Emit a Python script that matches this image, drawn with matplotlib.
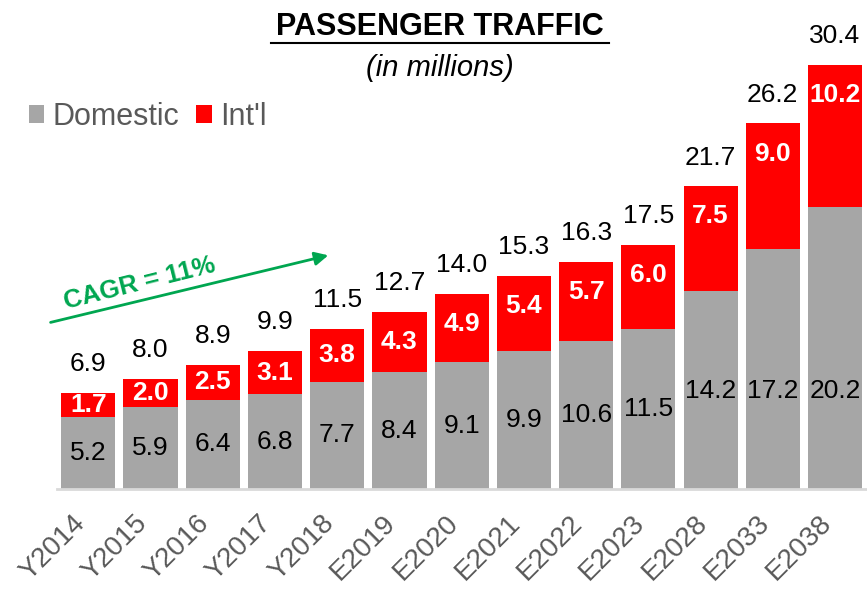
import matplotlib
matplotlib.use("Agg")
import matplotlib.pyplot as plt
import matplotlib.transforms as mtransforms
import numpy as np

years = ["Y2014", "Y2015", "Y2016", "Y2017", "Y2018", "E2019", "E2020",
         "E2021", "E2022", "E2023", "E2028", "E2033", "E2038"]
domestic = [5.2, 5.9, 6.4, 6.8, 7.7, 8.4, 9.1, 9.9, 10.6, 11.5, 14.2, 17.2, 20.2]
intl = [1.7, 2.0, 2.5, 3.1, 3.8, 4.3, 4.9, 5.4, 5.7, 6.0, 7.5, 9.0, 10.2]
totals = [6.9, 8.0, 8.9, 9.9, 11.5, 12.7, 14.0, 15.3, 16.3, 17.5, 21.7, 26.2, 30.4]

GREY = "#a6a6a6"
RED = "#ff0000"
GREEN = "#00a650"

plt.rcParams['font.family'] = ['Liberation Sans', 'DejaVu Sans']

fig = plt.figure(figsize=(8.67, 5.9), dpi=100)
ax = fig.add_axes([0.066, 0.171, 0.933, 0.829])

x = np.arange(len(years))
dom_arr = np.array(domestic)
int_arr = np.array(intl)
ax.bar(x, dom_arr, width=0.87, color=GREY, label="Domestic")
ax.bar(x, int_arr, width=0.87, bottom=dom_arr, color=RED, label="Int'l")

ax.set_xlim(-0.5, 12.5)
ax.set_ylim(0, 35.05)

# labels
for i in range(len(years)):
    ax.text(x[i], min(domestic[i] / 2, 7.0), f"{domestic[i]:.1f}",
            ha="center", va="center", fontsize=19, color="black")
    top = domestic[i] + intl[i]
    ax.text(x[i], top - min(intl[i] / 2, 2.15), f"{intl[i]:.1f}",
            ha="center", va="center", fontsize=19, color="white", fontweight="bold")
    ax.annotate(f"{totals[i]:.1f}", (x[i], top), xytext=(0, 12),
                textcoords="offset points", ha="center", va="bottom",
                fontsize=19, color="black")

for s in ["top", "right", "left"]:
    ax.spines[s].set_visible(False)
ax.spines["bottom"].set_color("#d9d9d9")
ax.spines["bottom"].set_linewidth(2)
ax.set_yticks([])
ax.set_xticks(x)
ax.set_xticklabels(years, rotation=45, ha="right", rotation_mode="anchor",
                   fontsize=20, color="#595959")
ax.tick_params(axis="x", length=0, pad=15)
offset = mtransforms.ScaledTranslation(-12 / 72, 0, fig.dpi_scale_trans)
for lbl in ax.get_xticklabels():
    lbl.set_transform(lbl.get_transform() + offset)

# title
fig.text(0.507, 0.954, "PASSENGER TRAFFIC", ha="center", va="center",
         fontsize=22, fontweight="bold")
fig.add_artist(plt.Line2D([0.312, 0.702], [0.927, 0.927], color="black", lw=1.5))
fig.text(0.507, 0.885, "(in millions)", ha="center", va="center",
         fontsize=21, style="italic")

# legend
leg = fig.legend(loc="center left", bbox_to_anchor=(0.033, 0.802), ncol=2, frameon=False,
                 fontsize=22, handlelength=0.52, handleheight=0.52, handletextpad=0.26,
                 columnspacing=0.56, borderpad=0, borderaxespad=0)
for t in leg.get_texts():
    t.set_color("#595959")

# CAGR arrow
ax.annotate("", xy=(3.9, 16.8), xytext=(-0.65, 11.9),
            arrowprops=dict(arrowstyle="-|>", color=GREEN, lw=2, mutation_scale=20),
            annotation_clip=False)
ax.text(0.83, 14.75, "CAGR = 11%", rotation=14, ha="center", va="center",
        fontsize=18.5, fontweight="bold", color=GREEN, rotation_mode="anchor")

fig.savefig("out.png", dpi=100)
